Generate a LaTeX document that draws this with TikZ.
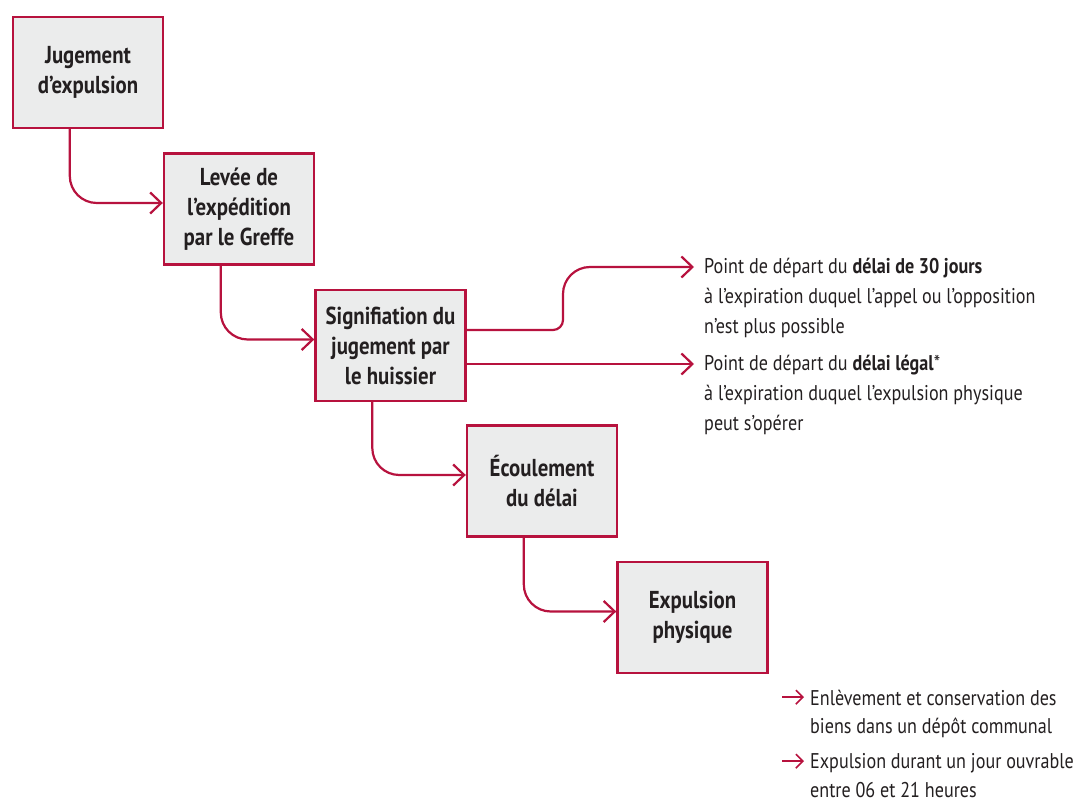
\documentclass[tikz,border=0pt]{standalone}
\usepackage{fontspec}
\setmainfont[FakeStretch=0.85]{PT Sans}
\usetikzlibrary{arrows.meta}
\definecolor{crimson}{RGB}{183,18,62}
\definecolor{boxgrey}{RGB}{235,236,236}
\definecolor{ink}{RGB}{35,31,32}

\begin{document}
\begin{tikzpicture}[x=1pt,y=1pt,
  stepbox/.style={draw=crimson, line width=2.4pt, fill=boxgrey,
    minimum width=150pt, minimum height=111pt, inner sep=0pt,
    align=center, text=ink, font=\fontsize{24.5}{30}\selectfont\bfseries},
  conn/.style={draw=crimson, line width=2.2pt,
    -{Straight Barb[length=11pt,width=21pt,line width=2.2pt]}},
  note/.style={anchor=north west, inner sep=0pt, align=left, text=ink,
    font=\fontsize{21.3}{30}\selectfont},
  bulletnote/.style={note, font=\fontsize{21.3}{28.5}\selectfont},
  bullet/.style={draw=crimson, line width=1.6pt,
    -{Straight Barb[length=7pt,width=14pt,line width=1.6pt]}}
]
\useasboundingbox (0,0) rectangle (1074,-805);

% procedure steps
\node[stepbox] (b1) at (88,-72.5)    {Jugement\\d’expulsion};
\node[stepbox] (b2) at (239,-209)    {Levée de\\l’expédition\\par le Greffe};
\node[stepbox] (b3) at (390.5,-345.5){Signifiation du\\jugement par\\le huissier};
\node[stepbox] (b4) at (542,-481)    {Écoulement\\du délai};
\node[stepbox] (b5) at (692.5,-617.5){Expulsion\\physique};

% links between steps
\draw[conn, rounded corners=27pt] ([xshift=58pt]b1.south west) |- ([yshift=6pt]b2.west);
\draw[conn, rounded corners=27pt] ([xshift=58pt]b2.south west) |- ([yshift=6pt]b3.west);
\draw[conn, rounded corners=27pt] ([xshift=58pt]b3.south west) |- ([yshift=6pt]b4.west);
\draw[conn, rounded corners=27pt] ([xshift=58pt]b4.south west) |- ([yshift=6pt]b5.west);

% consequences of the service of the judgment
\node[note] (t1) at (704,-257.7) {Point de départ du \textbf{délai de 30 jours}\\à l’expiration duquel l’appel ou l’opposition\\n’est plus possible};
\node[note] (t2) at (704,-354.7) {Point de départ du \textbf{délai légal}*\\à l’expiration duquel l’expulsion physique\\peut s’opérer};
\coordinate (e1) at (694,-267);
\coordinate (e2) at (694,-364);
\draw[conn] ([yshift=15.5pt]b3.east) -- (553,-330)
  arc[start angle=-90, end angle=0, radius=10] -- (563,-294)
  arc[start angle=180, end angle=90, radius=27] -- (e1);
\draw[conn] (b3.east |- e2) -- (e2);

% details of the physical eviction
\node[bulletnote] (t3) at (810,-689.7) {Enlèvement et conservation des\\biens dans un dépôt communal};
\node[bulletnote] (t4) at (810,-753.7) {Expulsion durant un jour ouvrable\\entre 06 et 21 heures};
\draw[bullet] ([xshift=-28pt,yshift=-7.5pt]t3.north west) -- ([xshift=-6pt,yshift=-7.5pt]t3.north west);
\draw[bullet] ([xshift=-28pt,yshift=-7.5pt]t4.north west) -- ([xshift=-6pt,yshift=-7.5pt]t4.north west);
\end{tikzpicture}
\end{document}
